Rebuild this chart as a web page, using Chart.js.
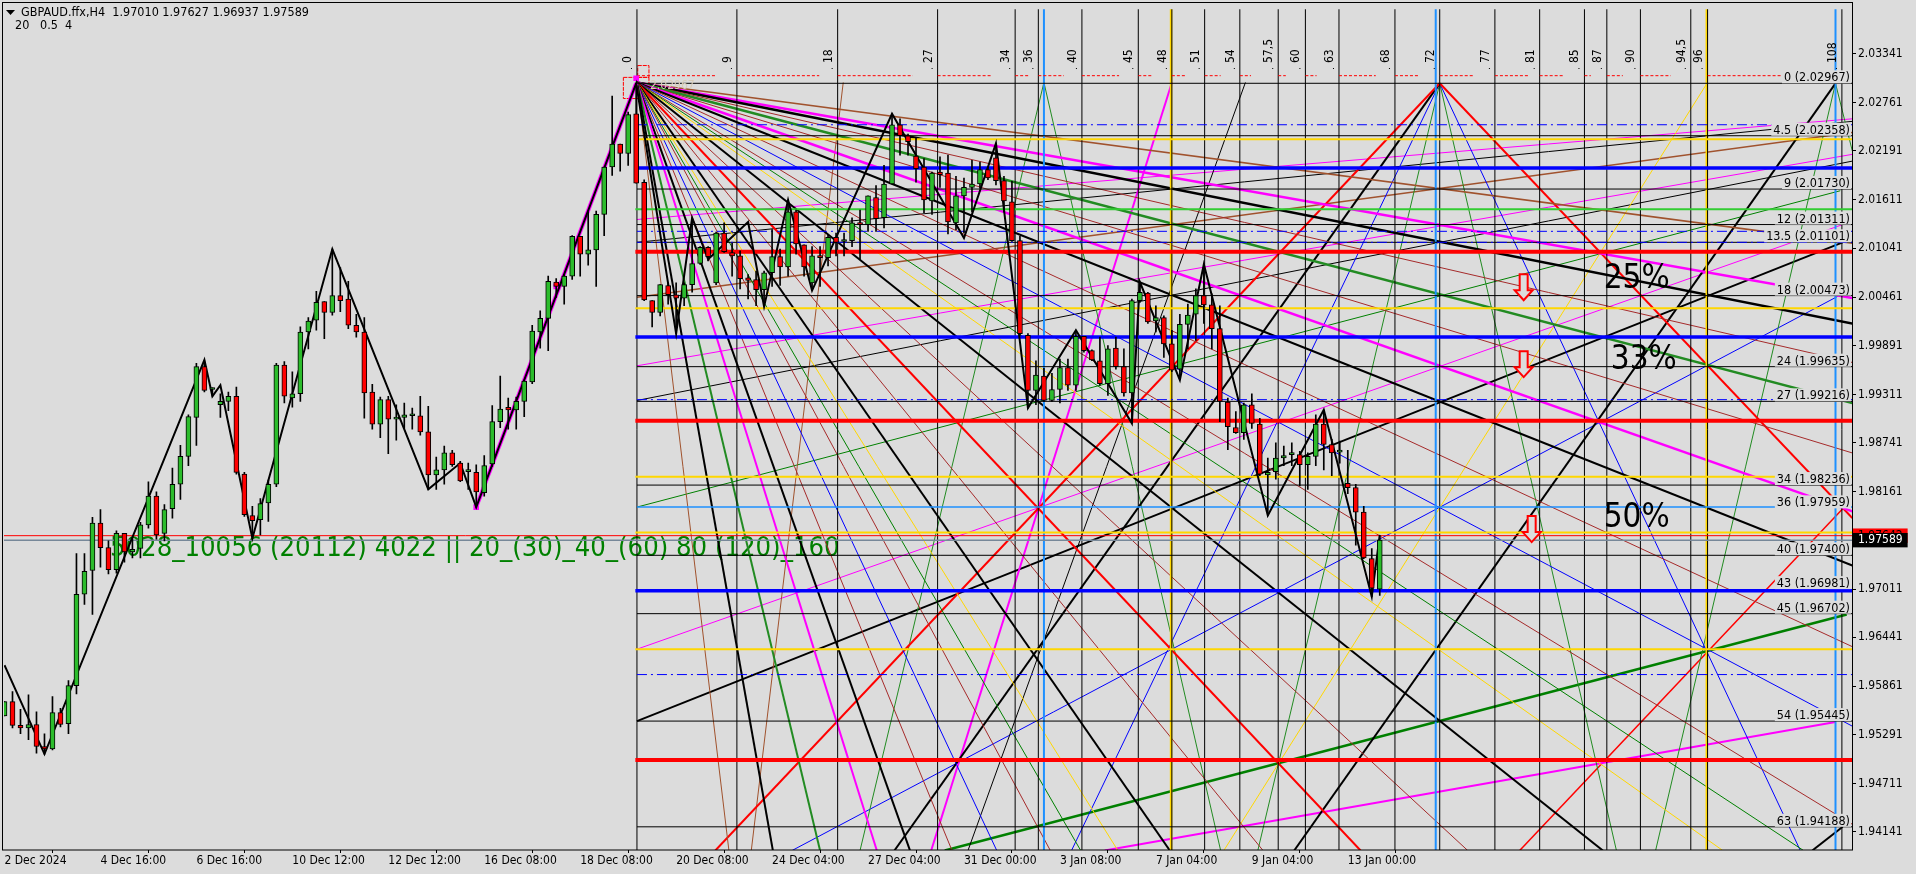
<!DOCTYPE html>
<html>
<head>
<meta charset="utf-8">
<title>GBPAUD H4</title>
<script src="https://cdn.jsdelivr.net/npm/chart.js@4"></script>
<style>
  html, body { margin: 0; padding: 0; background: #dcdcdc; overflow: hidden; }
  canvas { display: block; }
</style>
</head>
<body>
<canvas id="chart" width="1916" height="874"></canvas>
<script>
// candles, H4 bars
const opens = [
  1.9551,1.9568,1.9540,1.9537,1.9541,1.9515,1.9512,1.9555,1.9542,1.9587,
  1.9695,1.9723,1.9779,1.9750,1.9724,1.9767,1.9745,1.9749,1.9777,1.9811,
  1.9767,1.9796,1.9825,1.9858,1.9904,1.9964,1.9937,1.9919,1.9923,1.9929,
  1.9837,1.9788,1.9783,1.9803,1.9825,1.9966,1.9927,1.9932,2.0005,2.0019,
  2.0041,2.0028,2.0048,2.0044,2.0013,2.0005,1.9934,1.9896,1.9925,1.9902,
  1.9904,1.9906,1.9906,1.9887,1.9836,1.9842,1.9862,1.9850,1.9840,1.9839,
  1.9815,1.9849,1.9899,1.9916,1.9913,1.9923,1.9946,2.0005,2.0021,2.0064,
  2.0059,2.0071,2.0118,2.0097,2.0102,2.0144,2.0200,2.0227,2.0216,2.0263,
  2.0182,2.0042,2.0028,2.0060,2.0049,2.0045,2.0061,2.0086,2.0105,2.0063,
  2.0122,2.0099,2.0095,2.0069,2.0067,2.0055,2.0075,2.0094,2.0082,2.0147,
  2.0108,2.0063,2.0095,2.0093,2.0117,2.0112,2.0113,2.0134,2.0132,2.0164,
  2.0140,2.0180,2.0250,2.0237,2.0213,2.0200,2.0160,2.0194,2.0193,2.0134,
  2.0166,2.0176,2.0180,2.0197,2.0211,2.0184,2.0159,2.0113,2.0001,1.9936,
  1.9953,1.9924,1.9937,1.9963,1.9942,2.0000,1.9983,1.9971,1.9944,1.9986,
  1.9964,1.9933,2.0042,2.0051,2.0018,2.0022,1.9991,1.9961,2.0014,2.0026,
  2.0048,2.0037,2.0009,1.9922,1.9892,1.9886,1.9919,1.9896,1.9836,1.9840,
  1.9856,1.9860,1.9860,1.9848,1.9858,1.9896,1.9872,1.9863,1.9826,1.9821,
  1.9792,1.9737,1.97010
];
const highs = [
  1.9568,1.9580,1.9559,1.9576,1.9556,1.9530,1.9574,1.9560,1.9593,1.9743,
  1.9743,1.9786,1.9795,1.9758,1.9770,1.9767,1.9762,1.9780,1.9828,1.9816,
  1.9801,1.9844,1.9871,1.9907,1.9968,1.9971,1.9939,1.9932,1.9934,1.9940,
  1.9839,1.9799,1.9808,1.9830,1.9968,1.9970,1.9958,2.0011,2.0022,2.0053,
  2.0041,2.0103,2.0081,2.0065,2.0026,2.0022,1.9943,1.9928,1.9929,1.9919,
  1.9921,1.9915,1.9929,1.9917,1.9857,1.9870,1.9865,1.9852,1.9850,1.9848,
  1.9859,1.9918,1.9953,1.9927,1.9928,1.9948,2.0013,2.0030,2.0071,2.0068,
  2.0073,2.0119,2.0118,2.0147,2.0148,2.0200,2.0284,2.0227,2.0265,2.0299,
  2.0185,2.0042,2.0061,2.0063,2.0063,2.0063,2.0140,2.0106,2.0106,2.0123,
  2.0134,2.0110,2.0101,2.0073,2.0077,2.0077,2.0126,2.0103,2.0161,2.0149,
  2.0108,2.0106,2.0106,2.0120,2.0122,2.0122,2.0140,2.0149,2.0166,2.0178,
  2.0202,2.0263,2.0257,2.0239,2.0234,2.0210,2.0194,2.0212,2.0214,2.0189,
  2.0187,2.0208,2.0206,2.0200,2.0228,2.0189,2.0183,2.0118,2.0003,1.9971,
  1.9962,1.9956,1.9973,1.9973,2.0007,2.0000,1.9984,1.9999,1.9989,1.9999,
  1.9985,2.0044,2.0063,2.0052,2.0036,2.0024,2.0007,2.0026,2.0038,2.0056,
  2.0085,2.0050,2.0036,1.9927,1.9911,1.9921,1.9932,1.9903,1.9856,1.9874,
  1.9870,1.9874,1.9864,1.9862,1.9907,1.9913,1.9878,1.9876,1.9865,1.9825,
  1.9799,1.9749,1.97627
];
const lows = [
  1.9551,1.9537,1.9530,1.9523,1.9507,1.9506,1.9511,1.9538,1.9530,1.9577,
  1.9683,1.9671,1.9727,1.9719,1.9720,1.9733,1.9738,1.9738,1.9773,1.9760,
  1.9758,1.9785,1.9807,1.9847,1.9871,1.9934,1.9929,1.9904,1.9912,1.9837,
  1.9787,1.9761,1.9765,1.9781,1.9822,1.9921,1.9916,1.9923,1.9985,2.0007,
  1.9997,2.0025,2.0029,2.0009,1.9999,1.9903,1.9890,1.9880,1.9861,1.9877,
  1.9891,1.9890,1.9883,1.9819,1.9819,1.9825,1.9846,1.9828,1.9819,1.9797,
  1.9811,1.9846,1.9892,1.9890,1.9890,1.9905,1.9944,1.9986,1.9983,2.0046,
  2.0038,2.0067,2.0071,2.0084,2.0059,2.0119,2.0190,2.0195,2.0202,2.0181,
  2.0042,2.0011,2.0024,2.0038,2.0003,2.0036,2.0052,2.0085,2.0089,2.0061,
  2.0099,2.0071,2.0056,2.0044,2.0036,2.0036,2.0059,2.0060,2.0071,2.0097,
  2.0071,2.0054,2.0059,2.0083,2.0095,2.0095,2.0106,2.0091,2.0124,2.0124,
  2.0128,2.0180,2.0214,2.0214,2.0182,2.0146,2.0144,2.0176,2.0121,2.0126,
  2.0122,2.0147,2.0175,2.0185,2.0179,2.0147,2.0112,2.0001,1.9915,1.9919,
  1.9923,1.9923,1.9921,1.9936,1.9936,1.9981,1.9971,1.9942,1.9930,1.9961,
  1.9929,1.9897,2.0040,2.0015,2.0005,1.9975,1.9958,1.9950,1.9985,1.9995,
  2.0015,1.9985,1.9899,1.9866,1.9885,1.9878,1.9891,1.9835,1.9788,1.9831,
  1.9847,1.9847,1.9823,1.9819,1.9847,1.9842,1.9835,1.9850,1.9814,1.9753,
  1.9737,1.9692,1.96937
];
const closes = [
  1.9568,1.9540,1.9537,1.9541,1.9515,1.9512,1.9555,1.9541,1.9587,1.9695,
  1.9722,1.9779,1.9750,1.9724,1.9767,1.9745,1.9748,1.9777,1.9811,1.9765,
  1.9795,1.9825,1.9858,1.9905,1.9964,1.9936,1.9938,1.9923,1.9929,1.9839,
  1.9789,1.9782,1.9802,1.9825,1.9966,1.9929,1.9932,2.0005,2.0018,2.0040,
  2.0028,2.0048,2.0042,2.0013,2.0005,1.9933,1.9896,1.9925,1.9902,1.9904,
  1.9907,1.9906,1.9887,1.9836,1.9842,1.9862,1.9848,1.9829,1.9840,1.9816,
  1.9847,1.9899,1.9914,1.9913,1.9923,1.9947,2.0006,2.0021,2.0065,2.0059,
  2.0071,2.0118,2.0097,2.0102,2.0144,2.0200,2.0227,2.0216,2.0262,2.0181,
  2.0043,2.0028,2.0061,2.0049,2.0045,2.0061,2.0086,2.0105,2.0094,2.0122,
  2.0100,2.0095,2.0068,2.0066,2.0055,2.0075,2.0094,2.0082,2.0147,2.0109,
  2.0082,2.0095,2.0093,2.0117,2.0111,2.0112,2.0134,2.0132,2.0166,2.0139,
  2.0180,2.0250,2.0237,2.0230,2.0198,2.0161,2.0193,2.0191,2.0135,2.0166,
  2.0176,2.0180,2.0197,2.0187,2.0184,2.0160,2.0113,2.0003,1.9936,1.9954,
  1.9924,1.9937,1.9963,1.9942,2.0000,1.9983,1.9972,1.9944,1.9985,1.9964,
  1.9933,2.0042,2.0052,2.0017,2.0022,1.9991,1.9960,2.0014,2.0025,2.0048,
  2.0037,2.0009,1.9923,1.9893,1.9886,1.9919,1.9897,1.9837,1.9839,1.9856,
  1.9859,1.9860,1.9848,1.9858,1.9896,1.9872,1.9862,1.9863,1.9821,1.9792,
  1.9738,1.9702,1.97589
];

// axes
const xTickBars = [0,12,24,36,48,60,72,84,96,108,120,132,144,156,168];
const xTickLabels = ['2 Dec 2024','4 Dec 16:00','6 Dec 16:00','10 Dec 12:00','12 Dec 12:00','16 Dec 08:00','18 Dec 08:00','20 Dec 08:00','24 Dec 04:00','27 Dec 04:00','31 Dec 00:00','3 Jan 08:00','7 Jan 04:00','9 Jan 04:00','13 Jan 00:00'];
const priceTicks = [2.03341,2.02761,2.02191,2.01611,2.01041,2.00461,1.99891,1.99311,1.98741,1.98161,1.97642,1.97589,1.97011,1.96441,1.95861,1.95291,1.94711,1.94141];
const bidPrice = 1.97642;
const lastPrice = 1.97589;

// zigzag
const zigzagBars = [0,5,25,26,27,31,41,53,57,59,79,84,86,88,93,95,98,101,111,120,124,128,134,141,142,147,150,158,165,171,172];
const zigzagPrices = [1.9611,1.9506,1.9972,1.9929,1.9942,1.9761,2.0103,1.9819,1.9850,1.9798,2.0299,2.0003,2.0140,2.0091,2.0135,2.0035,2.0161,2.0054,2.0263,2.0116,2.0228,1.9915,2.0007,1.9897,2.0064,1.9948,2.0085,1.9788,1.9913,1.9692,1.9765];
const waveBars = [59,79];
const wavePrices = [1.9798,2.0299];
const markerBars = [59,69,79];
const markerPrices = [1.9798,2.0059,2.0305];

// gann time numbers on top and their vertical lines
const gannNumbers = ['0','9','18','27','34','36','40','45','48','51','54','57,5','60','63','68','72','77','81','85','87','90','94,5','96','108'];
const gannBars = [79.1,91.6,104.2,116.7,126.4,129.3,134.75,141.8,146,150.1,154.5,159.3,162.7,166.9,173.9,179.5,186.4,192,197.6,200.4,204.6,210.9,213,229.8];
const cycleBars = [130,179,229];
const goldBars = [145.9,212.9];
const dotStartBars = [79.1,91.6,104.2,116.7,126.4,129.3,134.75,141.8,146,150.1,154.5,159.3,162.7,166.9,173.9,179.5,186.4,192,197.6,200.4,204.6,213];
const dotEndBars = [89.1,101.9,113.6,123.5,128.1,132.5,139.4,143.6,147.75,152.1,155.9,160.25,164.1,171.5,177,183.75,190.6,194.9,198.4,202.4,208.4,231];
const dotPrice = 2.0308;

// horizontal levels
const blackLevels = [2.0299,2.0237,2.0174,2.0132,2.0111,2.0048,1.9964,1.9923,1.9824,1.9741,1.9672,1.9545,1.9420];
const levelTexts = ['0 (2.02967)','4.5 (2.02358)','9 (2.01730)','12 (2.01311)','13.5 (2.01101)','18 (2.00473)','24 (1.99635)','27 (1.99216)','34 (1.98236)','36 (1.97959)','40 (1.97400)','43 (1.96981)','45 (1.96702)','54 (1.95445)','63 (1.94188)'];
const levelTextPrices = [2.0299,2.0237,2.0174,2.0132,2.0111,2.0048,1.9964,1.9923,1.9824,1.97965,1.9741,1.9701,1.9672,1.9545,1.9420];
const goldLevels = [2.0233,2.0033,1.9834,1.9768,1.9630];
const blueLevels = [2.0199,1.9999,1.9699];
const redLevels = [2.0100,1.9900,1.9499];
const limeLevel = 2.0150;
const dashLevels = [2.0250,2.0124,2.0111,1.9925,1.9600];
const skyLevel = 1.9798;

// fan out of the top at bar 79
const fanBar = 79.1;
const fanPrice = 2.0300;
const chartLow = 1.9392;
const fanEndBars = [90.6,96.1,102,109.1,113.25,118.5,124.1,130.8,134.6,139.25,145.75,157.4,169.6,183,199.9,214.9,225,231.1,231.1,231.1,231.1,231.1,231.1,231.1,231.1,231.1,231.1,231.1];
const fanEndPrices = [chartLow,chartLow,chartLow,chartLow,chartLow,chartLow,chartLow,chartLow,chartLow,chartLow,chartLow,chartLow,chartLow,chartLow,chartLow,chartLow,chartLow,1.9423,1.9539,1.9633,1.9729,1.9793,1.9862,1.9921,1.9969,2.0015,2.0045,2.0110];

// other straight lines, start bar/price and end bar/price
const lineStartBars = [179.5,179.5,179.5,179.5,179.5,179.5,179.5,130,130,146,155.2,213,229,229,229,104.9,79.1,79.1,117.6,137.6,98.5,79.1,79.1,79.1,79.1,79.1,79.1,189.5,226.1];
const lineStartPrices = [2.0299,2.0299,2.0299,2.0299,2.0299,2.0299,2.0299,2.0300,2.0300,2.0300,2.0300,2.0300,2.0299,2.0299,2.0299,2.0300,1.9545,1.9630,chartLow,chartLow,chartLow,1.9798,1.9965,1.9924,2.0046,2.0138,2.0111,chartLow,chartLow];
const lineEndBars = [88.9,231.1,111.3,133.45,224.6,156.75,201.6,107,152.1,115.9,120.5,152.5,161.3,206.5,231.1,93.4,229.9,229.9,230.4,229,229.25,229.6,231.1,231.1,231.1,231.1,231.1,229.9,229.9];
const lineEndPrices = [chartLow,1.9785,chartLow,chartLow,chartLow,chartLow,chartLow,chartLow,chartLow,chartLow,chartLow,chartLow,chartLow,chartLow,2.0219,chartLow,2.0111,2.0132,1.9671,1.9544,2.0047,2.0172,2.0215,2.0207,2.0241,2.0257,2.0254,1.9796,1.9420];

// down arrows and big percent texts
const arrowBars = [190,190,191];
const arrowPrices = [2.0058,1.9967,1.9772];
const percentTexts = ['25%','33%','50%'];
const percentBars = [200,200.9,200];
const percentPrices = [2.0067,1.9971,1.9785];

const boxBars = [77.4,80.6,80.6,77.4,77.4];
const boxPrices = [2.0306,2.0306,2.0281,2.0281,2.0306];
const box2Bars = [79.2,80.6,80.6,79.2,79.2];
const box2Prices = [2.0320,2.0320,2.0306,2.0306,2.0320];

const BLACK = '#000000', RED = '#ff0000', BLUE = '#0000ff', MAGENTA = '#ff00ff', GOLD = '#ffd700';
const MAROON = '#a52a2a', SIENNA = '#a0522d', GREEN = '#008000', FOREST = '#228b22', SKY = '#1e90ff';
const FONT = '"DejaVu Sans Condensed", "DejaVu Sans", sans-serif';

const fanColors = [SIENNA,BLACK,FOREST,MAGENTA,BLACK,MAROON,BLUE,MAROON,GREEN,GOLD,BLACK,MAROON,RED,MAROON,BLACK,GOLD,GREEN,MAROON,BLUE,MAROON,BLACK,MAGENTA,MAROON,FOREST,MAROON,BLACK,MAGENTA,SIENNA];
const fanWidths = [1,2,2,2,2,1,1,1,1,1,2,1,2,1,2,1,1,1,1,1,2,2.5,1,2.5,1,2.5,2.5,1.5];
const lineColors = [RED,RED,BLACK,BLUE,BLUE,FOREST,FOREST,FOREST,FOREST,MAGENTA,BLACK,GOLD,BLACK,FOREST,FOREST,SIENNA,BLACK,MAGENTA,GREEN,MAGENTA,BLUE,GREEN,MAGENTA,BLACK,SIENNA,MAGENTA,BLACK,RED,BLACK];
const lineWidths = [2,2,2,1,1,1,1,1,1,2,1,1,2,1,1,1,2,1,2.5,2,1,1,1,1,1.5,1,1,1.5,2];

function line(points, color, width, dash) {
    return {
        type: 'line',
        data: points,
        borderColor: color,
        borderWidth: width,
        borderDash: dash || [],
        pointRadius: 0,
        tension: 0,
        fill: false,
        spanGaps: false,
        order: 5
    };
}

function seg(x0, y0, x1, y1, color, width, dash) {
    return line([{x: x0, y: y0}, {x: x1, y: y1}], color, width, dash);
}

function buildDatasets() {
    const sets = [];
    const bars = opens.map((o, i) => i);

    // wicks and bodies first, they sit on top of every line
    sets.push({
        type: 'bar',
        data: bars.map(i => ({x: i, y: [opens[i], closes[i]]})),
        backgroundColor: bars.map(i => closes[i] >= opens[i] ? '#2cbc2c' : RED),
        borderColor: BLACK,
        borderWidth: 1,
        borderSkipped: false,
        barThickness: 5,
        minBarLength: 2,
        grouped: false,
        order: 0
    });
    sets.push({
        type: 'bar',
        data: bars.map(i => ({x: i, y: [lows[i], highs[i]]})),
        backgroundColor: BLACK,
        borderWidth: 0,
        barThickness: 1,
        grouped: false,
        order: 1
    });

    sets.push(Object.assign(line(zigzagBars.map((b, i) => ({x: b, y: zigzagPrices[i]})), BLACK, 2), {order: 2}));
    sets.push(Object.assign(line(waveBars.map((b, i) => ({x: b, y: wavePrices[i]})), MAGENTA, 4), {order: 3}));
    sets.push(Object.assign(line(markerBars.map((b, i) => ({x: b, y: markerPrices[i]})), MAGENTA, 0), {
        showLine: false, pointRadius: 4, pointStyle: 'rect', pointBackgroundColor: MAGENTA, pointBorderWidth: 0, order: 3
    }));

    // full width price lines
    sets.push(seg(-1, bidPrice, 232, bidPrice, RED, 1));
    sets.push(seg(-1, lastPrice, 232, lastPrice, '#778899', 1.5));

    // thick levels over the fans
    const left = 78.9, right = 232;
    redLevels.forEach(p => sets.push(seg(left, p, right, p, RED, 4)));
    blueLevels.forEach(p => sets.push(seg(left, p, right, p, BLUE, 3.5)));
    goldLevels.forEach(p => sets.push(seg(left, p, right, p, GOLD, 2)));
    sets.push(seg(left, limeLevel, right, limeLevel, '#32cd32', 2));
    sets.push(seg(fanBar, skyLevel, right, skyLevel, SKY, 1.5));
    dashLevels.forEach(p => sets.push(seg(fanBar, p, right, p, BLUE, 1, [10, 4, 2, 4])));
    blackLevels.forEach(p => sets.push(seg(fanBar, p, right, p, BLACK, 1)));

    // red dotted top level, broken before every number
    const dots = [];
    dotStartBars.forEach((b, i) => {
        dots.push({x: b, y: dotPrice}, {x: dotEndBars[i], y: dotPrice}, {x: dotEndBars[i], y: null});
    });
    sets.push(line(dots, RED, 1, [3, 2]));

    // verticals, black ones over the coloured
    gannBars.forEach(b => sets.push(seg(b, 1.93, b, 2.04, BLACK, 1)));
    goldBars.forEach(b => sets.push(seg(b, 1.93, b, 2.04, GOLD, 2.5)));
    cycleBars.forEach(b => sets.push(seg(b, 1.93, b, 2.04, SKY, 2)));

    fanEndBars.forEach((b, i) => sets.push(seg(fanBar, fanPrice, b, fanEndPrices[i], fanColors[i], fanWidths[i])));
    lineStartBars.forEach((b, i) => sets.push(seg(b, lineStartPrices[i], lineEndBars[i], lineEndPrices[i], lineColors[i], lineWidths[i])));

    sets.push(line(boxBars.map((b, i) => ({x: b, y: boxPrices[i]})), RED, 1, [4, 1]));
    sets.push(line(box2Bars.map((b, i) => ({x: b, y: box2Prices[i]})), RED, 1, [4, 1]));
    return sets;
}

function drawArrow(ctx, x, y) {
    ctx.beginPath();
    ctx.moveTo(x - 4, y - 13);
    ctx.lineTo(x + 4, y - 13);
    ctx.lineTo(x + 4, y + 3);
    ctx.lineTo(x + 9, y + 3);
    ctx.lineTo(x, y + 13);
    ctx.lineTo(x - 9, y + 3);
    ctx.lineTo(x - 4, y + 3);
    ctx.closePath();
    ctx.fillStyle = '#dcdcdc';
    ctx.fill();
    ctx.strokeStyle = RED;
    ctx.lineWidth = 2;
    ctx.stroke();
}

const chartText = {
    id: 'chartText',
    beforeDatasetsDraw(chart) {
        const ctx = chart.ctx;
        ctx.save();
        ctx.fillStyle = GREEN;
        ctx.font = '27.2px ' + FONT;
        ctx.textBaseline = 'middle';
        ctx.textAlign = 'left';
        ctx.fillText('5028_10056 (20112) 4022 || 20_(30)_40_(60) 80 (120)_160', 110, 549);
        ctx.restore();
    },
    afterDatasetsDraw(chart) {
        const ctx = chart.ctx;
        const xs = chart.scales.x, ys = chart.scales.y;
        ctx.save();

        // the level texts have a background that hides what runs behind them
        ctx.font = '12.5px ' + FONT;
        ctx.textBaseline = 'alphabetic';
        ctx.textAlign = 'right';
        levelTexts.forEach((t, i) => {
            const y = ys.getPixelForValue(levelTextPrices[i]);
            const w = ctx.measureText(t).width;
            ctx.fillStyle = '#dcdcdc';
            ctx.fillRect(1850 - w - 2, y - 13, w + 3, 13);
            ctx.fillStyle = BLACK;
            ctx.fillText(t, 1850, y - 2);
        });

        arrowBars.forEach((b, i) => drawArrow(ctx, xs.getPixelForValue(b), ys.getPixelForValue(arrowPrices[i])));

        ctx.fillStyle = BLACK;
        ctx.font = '33px ' + FONT;
        ctx.textAlign = 'left';
        ctx.textBaseline = 'middle';
        percentTexts.forEach((t, i) => ctx.fillText(t, xs.getPixelForValue(percentBars[i]), ys.getPixelForValue(percentPrices[i])));

        // numbers on top, rotated
        ctx.font = '12px ' + FONT;
        gannNumbers.forEach((n, i) => {
            const x = xs.getPixelForValue(gannBars[i]);
            ctx.save();
            ctx.translate(x - 6, 63);
            ctx.rotate(-Math.PI / 2);
            ctx.textAlign = 'left';
            ctx.textBaseline = 'alphabetic';
            ctx.fillStyle = BLACK;
            ctx.fillText(n, 0, 0);
            ctx.restore();
            ctx.fillRect(x - 6, 68, 1, 1);
        });

        ctx.fillStyle = '#d8cdb8';
        ctx.textAlign = 'left';
        ctx.fillText('2.02967', 650, 86);

        // header
        ctx.fillStyle = BLACK;
        ctx.font = '12.5px ' + FONT;
        ctx.textAlign = 'left';
        ctx.fillText('GBPAUD.ffx,H4  1.97010 1.97627 1.96937 1.97589', 21, 13);
        ctx.fillText('20   0.5  4', 15, 26);
        ctx.beginPath();
        ctx.moveTo(6, 10);
        ctx.lineTo(15, 10);
        ctx.lineTo(10.5, 15);
        ctx.closePath();
        ctx.fill();

        // frame
        ctx.strokeStyle = BLACK;
        ctx.lineWidth = 1;
        ctx.strokeRect(2.5, 2.5, 1850, 847.5);
        ctx.restore();
    }
};

new Chart(document.getElementById('chart').getContext('2d'), {
    type: 'bar',
    data: { datasets: buildDatasets() },
    plugins: [chartText],
    options: {
        responsive: false,
        animation: false,
        events: [],
        layout: { padding: { left: 3, top: 3, right: 0, bottom: 0 } },
        plugins: { legend: { display: false }, tooltip: { enabled: false } },
        scales: {
            x: {
                type: 'linear',
                offset: false,
                min: -0.0625,
                max: 231.0625,
                afterBuildTicks: scale => { scale.ticks = xTickBars.map(v => ({value: v})); },
                afterFit: scale => { scale.height = 24; },
                border: { display: false },
                grid: { drawOnChartArea: false, color: BLACK, tickLength: 3 },
                ticks: {
                    autoSkip: false,
                    maxRotation: 0,
                    align: 'start',
                    padding: 1,
                    color: BLACK,
                    font: { family: FONT, size: 12 },
                    callback: v => xTickLabels[xTickBars.indexOf(v)]
                }
            },
            y: {
                position: 'right',
                min: 1.93926,
                max: 2.03866,
                afterBuildTicks: scale => { scale.ticks = priceTicks.map(v => ({value: v})); },
                afterFit: scale => { scale.width = 64; },
                border: { display: false },
                grid: { drawOnChartArea: false, color: BLACK, tickLength: 4 },
                ticks: {
                    autoSkip: false,
                    padding: 2,
                    crossAlign: 'near',
                    color: ctx => ctx.tick.value === lastPrice ? '#ffffff' : BLACK,
                    font: { family: FONT, size: 12 },
                    showLabelBackdrop: ctx => ctx.tick.value === lastPrice || ctx.tick.value === bidPrice,
                    backdropColor: ctx => ctx.tick.value === lastPrice ? BLACK : RED,
                    backdropPadding: { left: 5, right: 5, top: 0, bottom: 0 },
                    callback: v => v.toFixed(5)
                }
            }
        }
    }
});
</script>
</body>
</html>
